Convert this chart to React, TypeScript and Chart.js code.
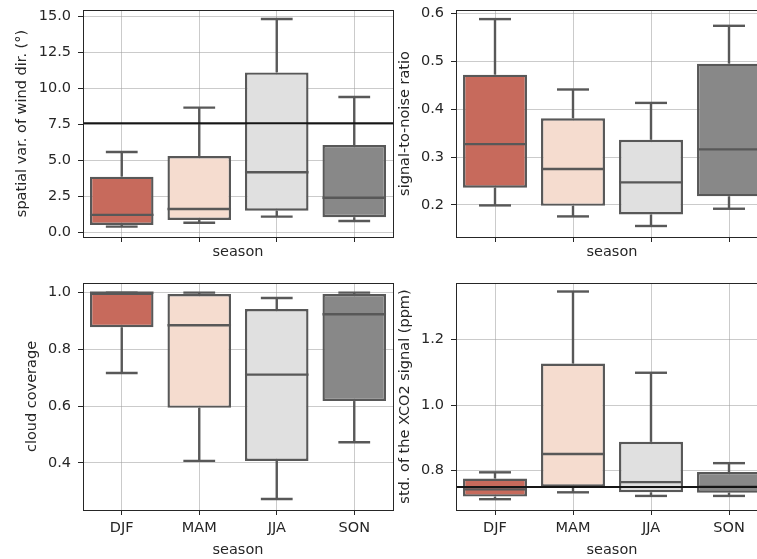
import React, { useEffect, useRef } from 'react';
import { Chart, registerables } from 'chart.js';

Chart.register(...registerables);

// ---------- data ----------
const SEASONS = ['DJF', 'MAM', 'JJA', 'SON'];

// spatial variability of wind direction (°)
const WIND_LOW = [0.42, 0.69, 1.11, 0.81];
const WIND_Q1 = [0.53, 0.88, 1.52, 1.07];
const WIND_MED = [1.23, 1.64, 4.18, 2.42];
const WIND_Q3 = [3.88, 5.31, 11.1, 6.07];
const WIND_HIGH = [5.59, 8.66, 14.8, 9.4];
const WIND_REF = 7.58;
const WIND_TICKS = [0, 2.5, 5, 7.5, 10, 12.5, 15];

// signal-to-noise ratio
const SNR_LOW = [0.199, 0.176, 0.156, 0.192];
const SNR_Q1 = [0.236, 0.198, 0.18, 0.218];
const SNR_MED = [0.327, 0.275, 0.247, 0.316];
const SNR_Q3 = [0.472, 0.381, 0.336, 0.495];
const SNR_HIGH = [0.588, 0.441, 0.413, 0.574];
const SNR_TICKS = [0.2, 0.3, 0.4, 0.5, 0.6];

// cloud coverage
const CLOUD_LOW = [0.717, 0.407, 0.273, 0.473];
const CLOUD_Q1 = [0.878, 0.594, 0.407, 0.618];
const CLOUD_MED = [1.0, 0.885, 0.711, 0.924];
const CLOUD_Q3 = [1.0, 0.995, 0.942, 0.995];
const CLOUD_HIGH = [1.0, 1.0, 0.981, 1.0];
const CLOUD_TICKS = [0.4, 0.6, 0.8, 1.0];

// std. of the XCO2 signal (ppm)
const XCO2_LOW = [0.713, 0.734, 0.723, 0.723];
const XCO2_Q1 = [0.721, 0.751, 0.734, 0.733];
const XCO2_MED = [0.743, 0.851, 0.765, 0.751];
const XCO2_Q3 = [0.776, 1.127, 0.888, 0.796];
const XCO2_HIGH = [0.795, 1.347, 1.099, 0.823];
const XCO2_REF = 0.75;
const XCO2_TICKS = [0.8, 1.0, 1.2];

// ---------- style ----------
const BOX_COLORS = ['#c76a5c', '#f5dccf', '#e0e0e0', '#888888'];
const EDGE = '#585858';
const TEXT = '#262626';
const GRID = 'rgba(160,160,160,0.55)';
const FONT = { family: 'DejaVu Sans', size: 14.5 };
const LW = 2.4;

interface PanelSpec {
  left: number;
  top: number;
  width: number;
  height: number;
  padRight: number;
  xH: number;
  xTitlePad: number;
  yTitlePad: number;
  showX: boolean;
  yTitle: string;
  yMin: number;
  yMax: number;
  ticks: number[];
  low: number[];
  q1: number[];
  med: number[];
  q3: number[];
  high: number[];
  ref?: number;
}

function buildConfig(p: PanelSpec): any {
  const boxParts = {
    id: 'boxParts',
    afterDatasetsDraw(chart: any) {
      const ctx = chart.ctx;
      const xs = chart.scales.x;
      const ys = chart.scales.y;
      const meta = chart.getDatasetMeta(0);
      ctx.save();
      ctx.strokeStyle = EDGE;
      ctx.lineWidth = LW;
      const seg = (x1: number, y1: number, x2: number, y2: number) => {
        ctx.beginPath();
        ctx.moveTo(x1, y1);
        ctx.lineTo(x2, y2);
        ctx.stroke();
      };
      p.med.forEach((m, i) => {
        const cx = xs.getPixelForValue(i);
        const half = meta.data[i].width / 2;
        const yQ1 = ys.getPixelForValue(p.q1[i]);
        const yQ3 = ys.getPixelForValue(p.q3[i]);
        const yLo = ys.getPixelForValue(p.low[i]);
        const yHi = ys.getPixelForValue(p.high[i]);
        const yMed = ys.getPixelForValue(m);
        // whiskers
        seg(cx, yQ3, cx, yHi);
        seg(cx, yQ1, cx, yLo);
        // caps
        seg(cx - half / 2, yHi, cx + half / 2, yHi);
        seg(cx - half / 2, yLo, cx + half / 2, yLo);
        // median
        seg(cx - half, yMed, cx + half, yMed);
      });
      ctx.restore();
    },
    afterDraw(chart: any) {
      const ctx = chart.ctx;
      const a = chart.chartArea;
      ctx.save();
      if (p.ref !== undefined) {
        const yr = chart.scales.y.getPixelForValue(p.ref);
        ctx.strokeStyle = '#161616';
        ctx.lineWidth = 2;
        ctx.beginPath();
        ctx.moveTo(a.left, yr);
        ctx.lineTo(a.right, yr);
        ctx.stroke();
      }
      ctx.strokeStyle = TEXT;
      ctx.lineWidth = 1;
      ctx.strokeRect(Math.round(a.left) + 0.5, Math.round(a.top) + 0.5, Math.round(a.right - a.left), Math.round(a.bottom - a.top));
      ctx.restore();
    },
  };

  return {
    type: 'bar',
    data: {
      labels: SEASONS,
      datasets: [
        {
          data: p.q1.map((q, i) => [q, p.q3[i]]),
          backgroundColor: BOX_COLORS,
          borderColor: EDGE,
          borderWidth: LW,
          borderSkipped: false,
          barPercentage: 0.82,
          categoryPercentage: 1,
        },
      ],
    },
    options: {
      responsive: false,
      animation: false,
      devicePixelRatio: 1,
      events: [],
      layout: { padding: { top: 10, right: p.padRight, bottom: 0, left: 0 } },
      plugins: { legend: { display: false }, tooltip: { enabled: false } },
      scales: {
        x: {
          type: 'category',
          offset: true,
          z: 1,
          grid: { display: true, offset: false, color: GRID, tickColor: TEXT, tickLength: 5, lineWidth: 1 },
          border: { display: true, color: TEXT, width: 1 },
          ticks: { display: p.showX, color: TEXT, font: FONT, padding: 5, maxRotation: 0, autoSkip: false },
          title: { display: true, text: 'season', color: TEXT, font: FONT, padding: { top: 0, bottom: p.xTitlePad } },
          afterFit: (s: any) => {
            s.height = p.xH;
            s.paddingLeft = 0;
            s.paddingRight = 0;
          },
        },
        y: {
          type: 'linear',
          min: p.yMin,
          max: p.yMax,
          z: 1,
          afterBuildTicks: (s: any) => {
            s.ticks = p.ticks.map((v) => ({ value: v }));
          },
          grid: { display: true, color: GRID, tickColor: TEXT, tickLength: 5, lineWidth: 1 },
          border: { display: true, color: TEXT, width: 1 },
          ticks: { color: TEXT, font: FONT, padding: 7, callback: (v: any) => Number(v).toFixed(1) },
          title: { display: true, text: p.yTitle, color: TEXT, font: FONT, padding: { top: p.yTitlePad, bottom: 0 } },
          afterFit: (s: any) => {
            s.width = 83;
            s.paddingTop = 0;
            s.paddingBottom = 0;
          },
        },
      },
    },
    plugins: [boxParts],
  };
}

const PANELS: PanelSpec[] = [
  {
    left: 0, top: 0, width: 400, height: 261, padRight: 7, xH: 24, xTitlePad: 0.5, yTitlePad: 13.8, showX: false,
    yTitle: 'spatial var. of wind dir. (°)', yMin: -0.3, yMax: 15.42, ticks: WIND_TICKS,
    low: WIND_LOW, q1: WIND_Q1, med: WIND_MED, q3: WIND_Q3, high: WIND_HIGH, ref: WIND_REF,
  },
  {
    left: 373, top: 0, width: 400, height: 261, padRight: 5, xH: 24, xTitlePad: 0.5, yTitlePad: 23.3, showX: false,
    yTitle: 'signal-to-noise ratio', yMin: 0.133, yMax: 0.607, ticks: SNR_TICKS,
    low: SNR_LOW, q1: SNR_Q1, med: SNR_MED, q3: SNR_Q3, high: SNR_HIGH,
  },
  {
    left: 0, top: 273, width: 400, height: 286, padRight: 7, xH: 49, xTitlePad: 0.5, yTitlePad: 23.8, showX: true,
    yTitle: 'cloud coverage', yMin: 0.234, yMax: 1.034, ticks: CLOUD_TICKS,
    low: CLOUD_LOW, q1: CLOUD_Q1, med: CLOUD_MED, q3: CLOUD_Q3, high: CLOUD_HIGH,
  },
  {
    left: 373, top: 273, width: 400, height: 286, padRight: 5, xH: 49, xTitlePad: 0.5, yTitlePad: 23.3, showX: true,
    yTitle: 'std. of the XCO2 signal (ppm)', yMin: 0.68, yMax: 1.373, ticks: XCO2_TICKS,
    low: XCO2_LOW, q1: XCO2_Q1, med: XCO2_MED, q3: XCO2_Q3, high: XCO2_HIGH, ref: XCO2_REF,
  },
];

function Panel({ spec }: { spec: PanelSpec }) {
  const ref = useRef<HTMLCanvasElement | null>(null);
  useEffect(() => {
    if (!ref.current) return;
    const chart = new Chart(ref.current, buildConfig(spec));
    return () => chart.destroy();
  }, [spec]);
  return (
    <canvas
      ref={ref}
      width={spec.width}
      height={spec.height}
      style={{ position: 'absolute', left: spec.left, top: spec.top, width: spec.width, height: spec.height }}
    />
  );
}

export default function App() {
  return (
    <div
      style={{
        position: 'fixed',
        left: 0,
        top: 0,
        width: 757,
        height: 559,
        overflow: 'hidden',
        background: '#ffffff',
      }}
    >
      {PANELS.map((p, i) => (
        <Panel key={i} spec={p} />
      ))}
    </div>
  );
}
